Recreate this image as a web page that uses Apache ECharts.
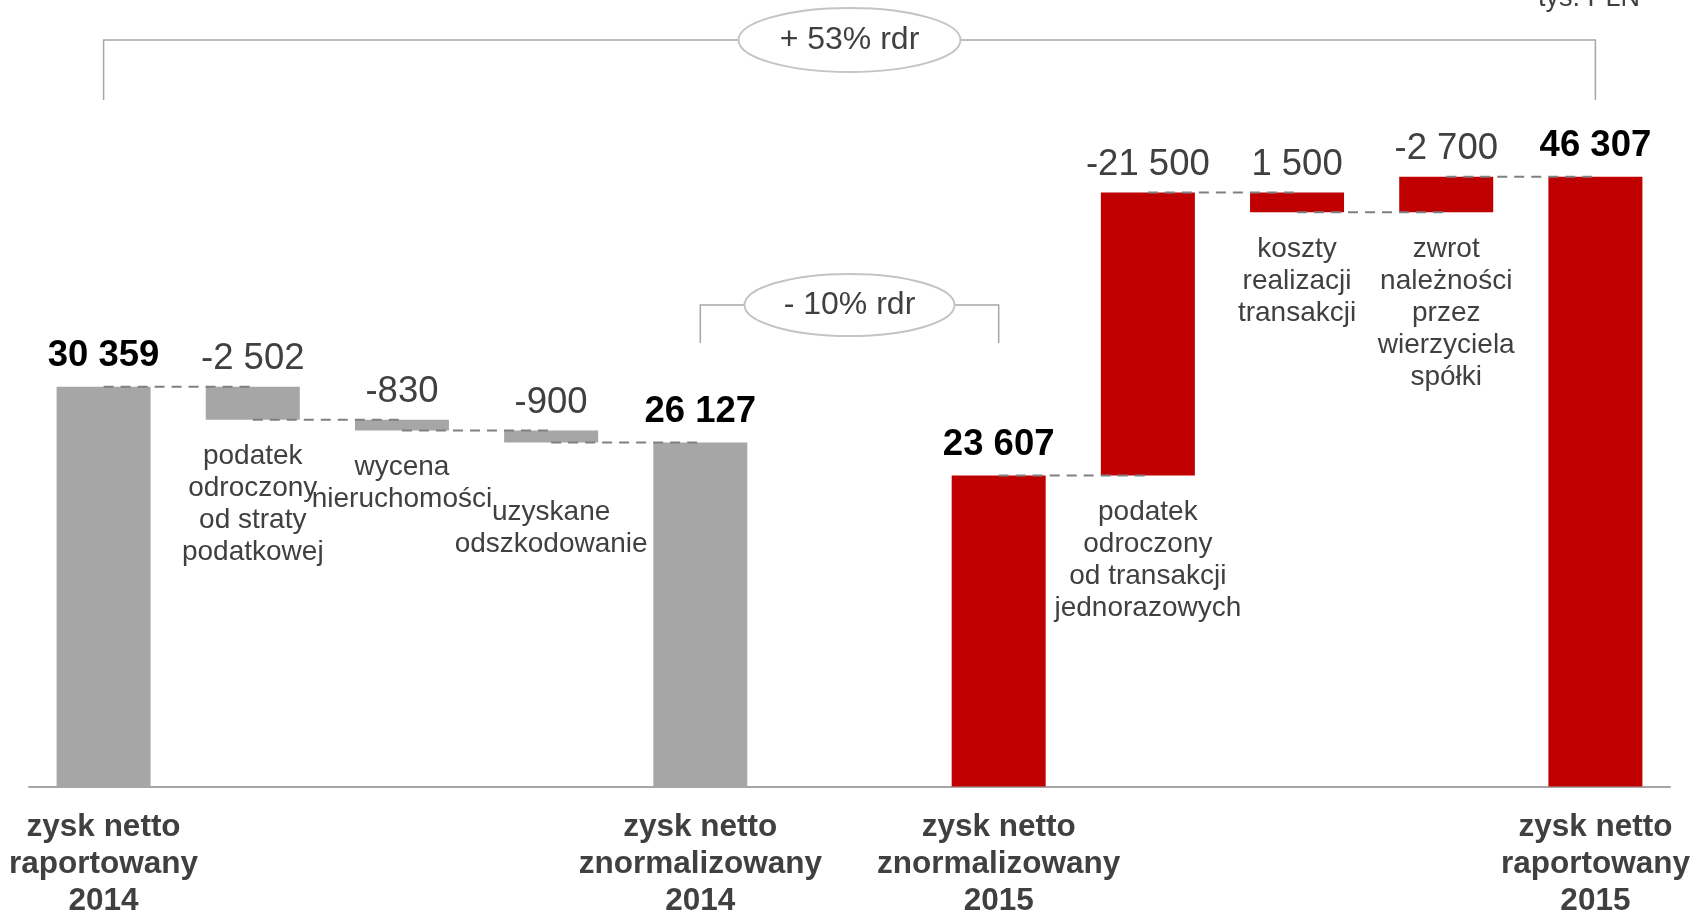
<!DOCTYPE html>
<html>
<head>
<meta charset="utf-8">
<title>zysk netto</title>
<script src="https://cdn.jsdelivr.net/npm/echarts@6/dist/echarts.min.js"></script>
<style>
  html, body { margin: 0; padding: 0; background: #fff; }
  #main { width: 1700px; height: 913px; }
</style>
</head>
<body>
<div id="main"></div>
<script>
// kategorie (pusta pozycja = przerwa między latami)
const categories = [
  'zysk netto\nraportowany\n2014',
  'podatek\nodroczony\nod straty\npodatkowej',
  'wycena\nnieruchomości',
  'uzyskane\nodszkodowanie',
  'zysk netto\nznormalizowany\n2014',
  '',
  'zysk netto\nznormalizowany\n2015',
  'podatek\nodroczony\nod transakcji\njednorazowych',
  'koszty\nrealizacji\ntransakcji',
  'zwrot\nnależności\nprzez\nwierzyciela\nspółki',
  'zysk netto\nraportowany\n2015'
]
// czy słupek jest sumą (od zera)
const isTotal = [true, false, false, false, true, null, true, false, false, false, true]
// wartości sum / zmian (tys. PLN)
const changes = [30359, -2502, -830, -900, 26127, null, 23607, 21500, -1500, 2700, 46307]
// etykiety nad słupkami, tak jak na slajdzie
const valueLabels = ['30 359', '-2 502', '-830', '-900', '26 127', '', '23 607', '-21 500', '1 500', '-2 700', '46 307']
// rok, do którego należy słupek
const years = ['2014', '2014', '2014', '2014', '2014', '', '2015', '2015', '2015', '2015', '2015']
// zmiany rdr
const brackets = [
  { from: 0, to: 10, text: '+ 53% rdr' },
  { from: 4, to: 6, text: '- 10% rdr' }
]

const FONT = "'Liberation Sans', Arial, sans-serif"
const TEXT = '#404040'
const yearColor = { '2014': '#a6a6a6', '2015': '#c00000' }

// podstawa (przezroczysta) + widoczna część
let baseData = []
let barData = []
let links = []
let running = 0
changes.forEach((v, i) => {
  if (v === null) {
    baseData.push(null)
    barData.push(null)
    return
  }
  let base, h
  if (isTotal[i]) {
    base = 0
    h = v
    running = v
  } else {
    base = v < 0 ? running + v : running
    h = Math.abs(v)
    running += v
  }
  baseData.push({
    value: base,
    label: {
      show: !isTotal[i],
      formatter: categories[i],
      // opis pod "uzyskane odszkodowanie" jest przesunięty niżej
      offset: i === 3 ? [0, 33] : [0, 0]
    }
  })
  barData.push({
    value: h,
    itemStyle: { color: yearColor[years[i]] },
    label: isTotal[i]
      ? { fontWeight: 'bold', color: '#000', distance: 12 }
      : { fontWeight: 'normal', color: TEXT, distance: 9 }
  })
  if (i + 1 < changes.length && changes[i + 1] !== null) {
    links.push([i, i + 1, running])
  }
})

// położenie klamer (px)
const bracketLayout = [
  { lineY: 40, legY: 100, rx: 111, ry: 32 },
  { lineY: 305, legY: 343, rx: 105, ry: 31 }
]

let chart = echarts.init(document.getElementById('main'))
let option = {
  animation: false,
  textStyle: { fontFamily: FONT },
  grid: {
    left: 29,
    right: 30,
    top: 49,
    bottom: 126.5,
    outerBoundsMode: 'none'
  },
  graphic: [{
    type: 'text',
    x: 1640,
    y: 12,
    style: {
      text: 'tys. PLN',
      fill: TEXT,
      font: '27px ' + FONT,
      align: 'right',
      verticalAlign: 'bottom'
    }
  }],
  xAxis: {
    type: 'category',
    data: categories,
    axisLine: { lineStyle: { color: '#a6a6a6', width: 2 } },
    axisTick: { show: false },
    axisLabel: {
      interval: 0,
      margin: 22,
      color: TEXT,
      fontSize: 31.5,
      fontWeight: 'bold',
      lineHeight: 37,
      formatter: (val, idx) => isTotal[idx] ? val : ''
    }
  },
  yAxis: {
    type: 'value',
    min: 0,
    max: 56000,
    show: false,
    splitLine: { show: false }
  },
  series: [
    {
      name: 'base',
      type: 'bar',
      stack: 'wf',
      barWidth: 94,
      itemStyle: { color: 'transparent' },
      emphasis: { disabled: true },
      label: {
        position: 'insideTop',
        distance: 21,
        color: TEXT,
        fontSize: 28,
        lineHeight: 32
      },
      data: baseData
    },
    {
      name: 'zmiana',
      type: 'bar',
      stack: 'wf',
      barWidth: 94,
      label: {
        show: true,
        position: 'top',
        fontSize: 36.5,
        formatter: p => valueLabels[p.dataIndex]
      },
      data: barData
    },
    {
      // linie przerywane między słupkami
      type: 'custom',
      z: 5,
      clip: false,
      encode: { x: [0, 1], y: 2 },
      renderItem: (params, api) => {
        let a = api.coord([api.value(0), api.value(2)])
        let b = api.coord([api.value(1), api.value(2)])
        return {
          type: 'line',
          shape: { x1: a[0], y1: a[1], x2: b[0], y2: b[1] },
          style: { stroke: '#808080', lineWidth: 2, lineDash: [10, 7] }
        }
      },
      data: links
    },
    {
      // klamry z dynamiką rdr
      type: 'custom',
      z: 6,
      clip: false,
      encode: { x: [0, 1], y: 2 },
      renderItem: (params, api) => {
        let lay = bracketLayout[params.dataIndex]
        let x1 = api.coord([api.value(0), 0])[0]
        let x2 = api.coord([api.value(1), 0])[0]
        let cx = (x1 + x2) / 2
        return {
          type: 'group',
          children: [
            {
              type: 'polyline',
              shape: { points: [[x1, lay.legY], [x1, lay.lineY], [x2, lay.lineY], [x2, lay.legY]] },
              style: { stroke: '#a6a6a6', lineWidth: 1.5, fill: null }
            },
            {
              type: 'ellipse',
              shape: { cx: cx, cy: lay.lineY, rx: lay.rx, ry: lay.ry },
              style: { fill: '#fff', stroke: '#c4c4c4', lineWidth: 2 }
            },
            {
              type: 'text',
              style: {
                text: brackets[params.dataIndex].text,
                x: cx,
                y: lay.lineY,
                fill: TEXT,
                font: '32px ' + FONT,
                align: 'center',
                verticalAlign: 'middle'
              }
            }
          ]
        }
      },
      data: brackets.map(b => [b.from, b.to, 0])
    }
  ]
}
chart.setOption(option)
</script>
</body>
</html>
